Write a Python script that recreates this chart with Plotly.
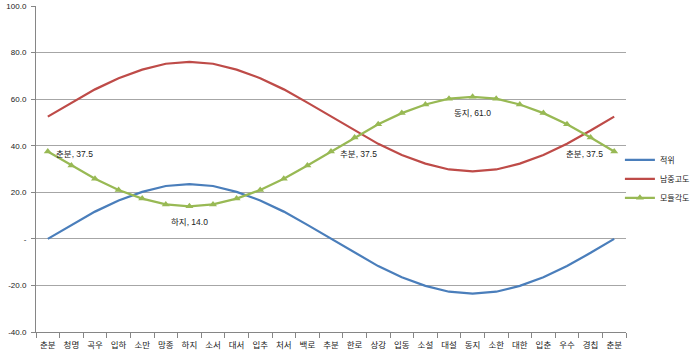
import plotly.graph_objects as go

cats = ["춘분", "청명", "곡우", "입하", "소만", "망종", "하지", "소서", "대서", "입추", "처서", "백로",
        "추분", "한로", "상강", "입동", "소설", "대설", "동지", "소한", "대한", "입춘", "우수", "경칩", "춘분"]

declination = [0.0, 6.0, 11.7, 16.5, 20.2, 22.7, 23.5, 22.7, 20.2, 16.5, 11.7, 6.0, 0.0,
               -6.0, -11.7, -16.5, -20.2, -22.7, -23.5, -22.7, -20.2, -16.5, -11.7, -6.0, 0.0]
altitude = [52.5, 58.5, 64.2, 69.0, 72.7, 75.2, 76.0, 75.2, 72.7, 69.0, 64.2, 58.5, 52.5,
            46.5, 40.8, 36.0, 32.3, 29.8, 29.0, 29.8, 32.3, 36.0, 40.8, 46.5, 52.5]
module = [37.5, 31.5, 25.8, 21.0, 17.3, 14.8, 14.0, 14.8, 17.3, 21.0, 25.8, 31.5, 37.5,
          43.5, 49.2, 54.0, 57.7, 60.2, 61.0, 60.2, 57.7, 54.0, 49.2, 43.5, 37.5]

series_names = ["적위", "남중고도", "모듈각도"]
ytick_vals = [-40, -20, 0, 20, 40, 60, 80, 100]
ytick_text = ["-40.0", "-20.0", "-", "20.0", "40.0", "60.0", "80.0", "100.0"]
label_idx = [0, 6, 12, 18, 24]

FONT = "Liberation Sans, Noto Sans CJK KR, sans-serif"
BLUE, RED, GREEN = "#4a7ebb", "#be4b48", "#98b954"

x = list(range(len(cats)))
fig = go.Figure()
fig.add_trace(go.Scatter(x=x, y=declination, name=series_names[0], mode="lines",
                         line=dict(color=BLUE, width=2.25)))
fig.add_trace(go.Scatter(x=x, y=altitude, name=series_names[1], mode="lines",
                         line=dict(color=RED, width=2.25)))
fig.add_trace(go.Scatter(x=x, y=module, name=series_names[2], mode="lines+markers",
                         line=dict(color=GREEN, width=2.25),
                         marker=dict(symbol="triangle-up", size=7, color=GREEN)))

pos = {0: ("left", 6, -2), 6: ("center", 0, -16), 12: ("left", 7, -2),
       18: ("center", 0, -16), 24: ("right", -9, -2)}
for i in label_idx:
    xa, xs, ys = pos[i]
    fig.add_annotation(x=i, y=module[i], text=f"{cats[i]}, {module[i]:.1f}", showarrow=False,
                       xanchor=xa, xshift=xs, yshift=ys,
                       font=dict(family=FONT, size=8.5, color="#222"))

fig.update_layout(
    width=700, height=355,
    margin=dict(l=36, r=73, t=6, b=23),
    paper_bgcolor="white", plot_bgcolor="white",
    font=dict(family=FONT, size=8.5, color="#222"),
    showlegend=True,
    legend=dict(x=0.988, xanchor="left", y=0.47, yanchor="middle",
                font=dict(size=8, color="#222"), bgcolor="rgba(0,0,0,0)",
                itemwidth=30),
)
fig.update_xaxes(
    range=[-0.5, len(cats) - 0.5], tickmode="array", tickvals=x, ticktext=cats,
    ticks="outside", ticklen=5, tickcolor="rgba(0,0,0,0)",
    showgrid=False, zeroline=False, automargin=False,
    showline=True, linecolor="#868686", linewidth=1,
    tickfont=dict(size=8.5),
    minor=dict(tickmode="array", tickvals=[i - 0.5 for i in range(len(cats) + 1)],
               ticks="outside", ticklen=5, tickwidth=1, tickcolor="#868686", showgrid=False),
)
fig.update_yaxes(
    range=[-40, 100], tickmode="array", tickvals=ytick_vals, ticktext=ytick_text,
    ticks="outside", ticklen=4, tickcolor="#868686", automargin=False,
    showgrid=True, gridcolor="#a6a6a6", gridwidth=1, zeroline=False,
    showline=True, linecolor="#868686", linewidth=1,
    tickfont=dict(size=8), ticklabelstandoff=3,
)

fig.write_html("out.html", config={"displayModeBar": False},
               post_script="document.body.style.margin='0';document.body.style.overflow='hidden';")
